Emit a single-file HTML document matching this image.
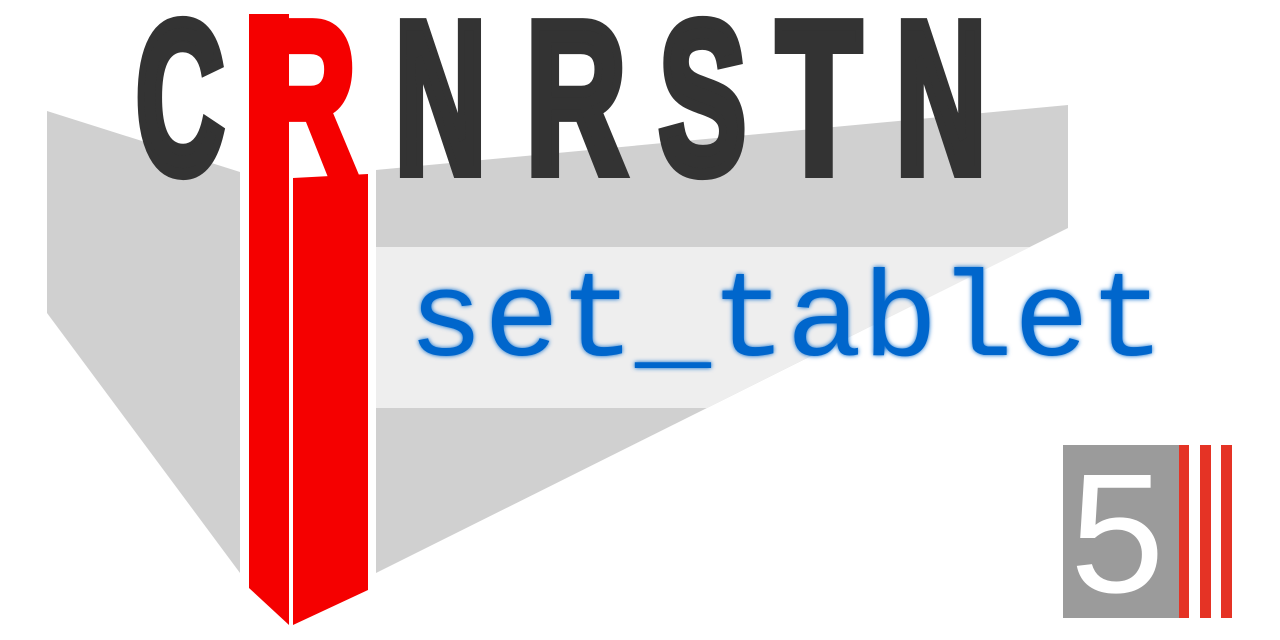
<!DOCTYPE html>
<html><head><meta charset="utf-8"><style>
html,body{margin:0;padding:0;background:#fff;width:1280px;height:640px;overflow:hidden}
</style></head><body>
<svg width="1280" height="640" viewBox="0 0 1280 640" xmlns="http://www.w3.org/2000/svg">
<defs>
<clipPath id="rp"><polygon points="376,170 1068,105 1068,228 376,573"/></clipPath>
<filter id="glow" x="-5%" y="-20%" width="110%" height="140%"><feGaussianBlur stdDeviation="2.5" result="b"/><feMerge><feMergeNode in="b"/><feMergeNode in="SourceGraphic"/></feMerge></filter>
</defs>
<polygon points="47,111 240,172 240,573 47,313" fill="#d0d0d0"/>
<polygon points="376,170 1068,105 1068,228 376,573" fill="#d0d0d0"/>
<rect x="376" y="247" width="700" height="161" fill="#eeeeee" clip-path="url(#rp)"/>
<polygon points="249,14 289,14 289,625 249,588" fill="#f50000"/>
<polygon points="293,178 368,174 368,590 293,625" fill="#f50000"/>
<g font-family="'Liberation Sans',sans-serif" font-weight="bold" font-size="215" fill="#333" stroke="#333" stroke-width="12" stroke-linejoin="miter">
<text x="136" y="172" textLength="88" lengthAdjust="spacingAndGlyphs">C</text>
<text x="255" y="172" textLength="101" lengthAdjust="spacingAndGlyphs" fill="#f50000" stroke="#f50000">R</text>
<text x="395" y="172" textLength="91" lengthAdjust="spacingAndGlyphs">N</text>
<text x="526" y="172" textLength="100" lengthAdjust="spacingAndGlyphs">R</text>
<text x="659" y="172" textLength="87" lengthAdjust="spacingAndGlyphs">S</text>
<text x="777" y="172" textLength="84" lengthAdjust="spacingAndGlyphs">T</text>
<text x="896" y="172" textLength="90" lengthAdjust="spacingAndGlyphs">N</text>
</g>
<text x="408" y="355" font-family="'Liberation Mono',monospace" font-size="122" fill="#0066cc" textLength="757" lengthAdjust="spacingAndGlyphs" filter="url(#glow)">set_tablet</text>
<rect x="1063" y="445" width="116" height="173" fill="#9b9b9b"/>
<text x="1070" y="592" font-family="'Liberation Sans',sans-serif" font-size="170" fill="#fff">5</text>
<rect x="1179" y="445" width="10" height="173" fill="#e53325"/>
<rect x="1200" y="445" width="11" height="173" fill="#e53325"/>
<rect x="1221" y="445" width="11" height="173" fill="#e53325"/>
</svg>
</body></html>
